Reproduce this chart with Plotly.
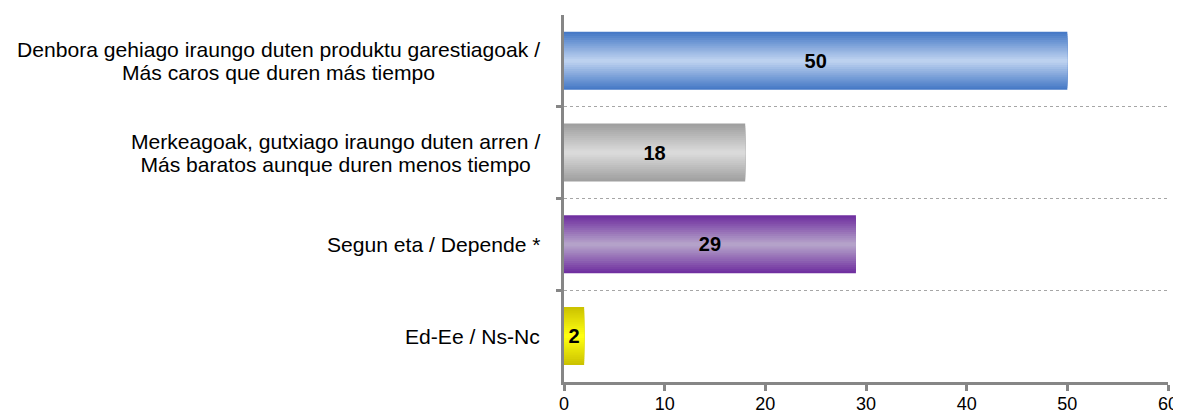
import plotly.graph_objects as go

# Survey answers (%), top to bottom
categories = [
    "Denbora gehiago iraungo duten produktu garestiagoak /<br>Más caros que duren más tiempo",
    "Merkeagoak, gutxiago iraungo duten arren /<br>Más baratos aunque duren menos tiempo",
    "Segun eta / Depende *",
    "Ed-Ee / Ns-Nc",
]
values = [50, 18, 29, 2]
x_ticks = [0, 10, 20, 30, 40, 50, 60]

# edge (dark) and centre (light) colour of each bar's gradient
edge_colors = ["#4679C6", "#A0A0A0", "#7030A0", "#CCC300"]
center_colors = ["#BCD1EF", "#DADADA", "#B4A2C9", "#FFFF10"]

_BAR_WIDTH = 0.632
_N_LAYERS = 14
_AXIS_GREY = "#868686"
_FONT = "Liberation Sans, Arial, sans-serif"


def _hex_to_rgb(h):
    h = h.lstrip("#")
    return tuple(int(h[i:i + 2], 16) for i in (0, 2, 4))


def _mix(c1, c2, t):
    a, b = _hex_to_rgb(c1), _hex_to_rgb(c2)
    r, g, bl = (round(a[i] + (b[i] - a[i]) * t) for i in range(3))
    return f"rgb({r},{g},{bl})"


fig = go.Figure()

# --- Gradient bars: overlaid bars that get narrower and lighter ---
for k in range(_N_LAYERS):
    t = k / (_N_LAYERS - 1)
    fig.add_trace(
        go.Bar(
            x=values,
            y=categories,
            orientation="h",
            width=_BAR_WIDTH * (1 - k / _N_LAYERS),
            marker=dict(
                color=[_mix(e, c, t) for e, c in zip(edge_colors, center_colors)],
                line=dict(width=0),
            ),
            hoverinfo="skip",
            showlegend=False,
        )
    )

# --- Value labels on a transparent top layer ---
fig.add_trace(
    go.Bar(
        x=values,
        y=categories,
        orientation="h",
        width=_BAR_WIDTH,
        marker=dict(color="rgba(0,0,0,0)", line=dict(width=0)),
        text=[str(v) for v in values],
        textposition="inside",
        insidetextanchor="middle",
        textfont=dict(family=_FONT, size=20, color="#000000", weight="bold"),
        hoverinfo="skip",
        showlegend=False,
    )
)

# --- Category labels (centred multi-line text, tighter line spacing) ---
for cat in categories:
    fig.add_annotation(
        x=0,
        xref="paper",
        y=cat,
        yref="y",
        text=f"<span style='font-size:21.1px'>{cat}</span>",
        showarrow=False,
        xanchor="right",
        align="center",
        xshift=-22,
        font=dict(family=_FONT, size=17.7, color="#000000"),
    )

fig.update_layout(
    barmode="overlay",
    width=1181,
    height=414,
    margin=dict(l=556, r=21, t=7, b=40),
    plot_bgcolor="#FFFFFF",
    paper_bgcolor="#FFFFFF",
    font=dict(family=_FONT, size=18, color="#000000"),
    xaxis=dict(
        range=[0, 60],
        tickvals=x_ticks,
        automargin=False,
        showgrid=False,
        zeroline=False,
        showline=True,
        linecolor=_AXIS_GREY,
        linewidth=3,
        ticks="outside",
        ticklen=6,
        tickwidth=3,
        tickcolor=_AXIS_GREY,
        ticklabelstandoff=-3,
        tickfont=dict(family=_FONT, size=18, color="#000000"),
    ),
    yaxis=dict(
        type="category",
        categoryorder="array",
        categoryarray=categories,
        range=[3.5, -0.499],
        automargin=False,
        tickson="boundaries",
        showticklabels=False,
        ticks="outside",
        ticklen=5,
        tickwidth=3,
        tickcolor=_AXIS_GREY,
        showline=True,
        linecolor=_AXIS_GREY,
        linewidth=3,
        showgrid=True,
        gridcolor="#A6A6A6",
        gridwidth=1,
        griddash="dot",
        zeroline=False,
    ),
)

fig.write_html("out.html")
